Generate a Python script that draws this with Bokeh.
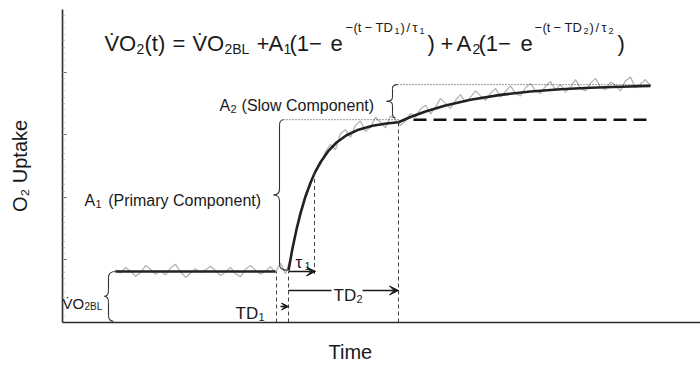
from bokeh.plotting import figure
from bokeh.models import Range1d, Label, Arrow, VeeHead, FixedTicker, Title
from bokeh.embed import file_html
from bokeh.resources import INLINE

# ---------------- data (time in s, O2 uptake in arbitrary units) ----------------
start_t = 53       # start of recording
onset_t = 214      # exercise onset
td1_t = 226        # end of TD1, start of primary component
tau1_t = 252       # TD1 + tau1
td2_t = 336        # start of slow component
end_t = 588        # end of recording
base_y = 0.815     # VO2 baseline
plateau_y = 3.24   # baseline + A1
final_y = 3.80     # baseline + A1 + A2

model_t = [226, 230, 234, 238, 243, 248, 252, 258, 266, 274, 284, 296, 310, 324, 336,
           348, 363, 383, 408, 438, 468, 498, 528, 558, 588]
model_y = [0.83, 1.185, 1.487, 1.744, 2.013, 2.233, 2.380, 2.561, 2.743, 2.875, 2.992,
           3.081, 3.144, 3.179, 3.198, 3.283, 3.372, 3.468, 3.558, 3.636, 3.689, 3.725,
           3.749, 3.767, 3.780]

grey_t = [53, 58, 63, 68, 73, 78, 83, 88, 93, 98, 103, 108, 113, 118, 123, 128, 133, 138,
          143, 148, 153, 158, 163, 168, 173, 178, 183, 188, 193, 198, 203, 208, 213, 218,
          223, 228, 233, 238, 243, 248, 253, 258, 263, 268, 273, 278, 283, 288, 293, 298,
          303, 308, 313, 318, 323, 328, 333, 338, 343, 348, 353, 358, 363, 368, 373, 378,
          383, 388, 393, 398, 403, 408, 413, 418, 423, 428, 433, 438, 443, 448, 453, 458,
          463, 468, 473, 478, 483, 488, 493, 498, 503, 508, 513, 518, 523, 528, 533, 538,
          543, 548, 553, 558, 563, 568, 573, 578, 583, 588]
grey_y = [0.84, 0.79, 0.88, 0.82, 0.74, 0.80, 0.91, 0.85, 0.77, 0.83, 0.76, 0.87, 0.93,
          0.81, 0.72, 0.79, 0.86, 0.80, 0.84, 0.90, 0.83, 0.75, 0.81, 0.88, 0.78, 0.73,
          0.85, 0.91, 0.84, 0.77, 0.82, 0.89, 0.80,
          0.95, 0.78, 1.02, 1.40, 1.78, 2.05, 2.20, 2.45, 2.52, 2.73,
          2.84, 2.76, 3.02, 3.08, 2.96, 3.15, 3.22, 3.05, 3.12, 3.28,
          3.20, 3.11, 3.30, 3.24, 3.15, 3.22, 3.34, 3.28, 3.41, 3.47,
          3.33, 3.44, 3.58, 3.50, 3.42, 3.55, 3.64, 3.52, 3.60, 3.70,
          3.62, 3.55, 3.66, 3.74, 3.60, 3.69, 3.78, 3.66, 3.62, 3.75,
          3.82, 3.70, 3.66, 3.77, 3.85, 3.72, 3.80, 3.68, 3.76, 3.88,
          3.74, 3.70, 3.82, 3.90, 3.76, 3.72, 3.84, 3.79, 3.70, 3.86,
          3.92, 3.75, 3.81, 3.88, 3.78]

# ---------------- figure ----------------
FONT = "Liberation Sans"
INK = "#1a1a1a"
PXY = 62.6  # pixels per y unit
FL, FB = 62, 322  # frame left / bottom in page pixels

p = figure(frame_width=638, frame_height=313, x_range=Range1d(0, 638), y_range=Range1d(0, 5),
           output_backend="svg", toolbar_location=None,
           min_border_left=FL, min_border_right=0, min_border_top=9, min_border_bottom=51)
p.outline_line_color = None
p.grid.visible = False
p.background_fill_color = "white"
p.border_fill_color = "white"

p.yaxis.ticker = FixedTicker(ticks=[1, 2, 3, 4], minor_ticks=[i / 10 for i in range(1, 50)])
p.yaxis.major_label_overrides = {1: "", 2: "", 3: "", 4: ""}
p.yaxis.major_tick_in = 4
p.yaxis.major_tick_out = 0
p.yaxis.minor_tick_in = 2
p.yaxis.minor_tick_out = 0
p.yaxis.major_tick_line_color = "#555555"
p.yaxis.minor_tick_line_color = "#9a9a9a"
p.yaxis.axis_label = "O\u2082 Uptake"
p.yaxis.axis_label_text_font = FONT
p.yaxis.axis_label_text_font_size = "20px"
p.yaxis.axis_label_text_font_style = "normal"
p.yaxis.axis_label_text_color = INK
p.yaxis.axis_label_standoff = 32

p.xaxis.ticker = FixedTicker(ticks=[])
p.xaxis.major_tick_line_color = None
p.xaxis.minor_tick_line_color = None
for ax in (p.xaxis, p.yaxis):
    ax.axis_line_color = "#2a2a2a"
    ax.axis_line_width = 1.6

p.add_layout(Title(text="Time", align="left", offset=266, text_font=FONT,
                   text_font_size="20px", text_font_style="normal", text_color=INK,
                   standoff=33), "below")


def t_of(px):
    return px - FL


def y_of(py):
    return (FB - py) / PXY


def txt(s, px, py, size, align="left", color=INK):
    p.add_layout(Label(x=t_of(px), y=y_of(py), text=s, text_font=FONT,
                       text_font_size=f"{size}px", text_color=color,
                       text_align=align, text_baseline="alphabetic"))


# ---------------- data lines ----------------
p.line(grey_t, grey_y, line_color="#b4b4b4", line_width=1.3)
p.line([start_t, onset_t - 1], [base_y, base_y], line_color="#222222", line_width=2.6)
p.line(model_t, model_y, line_color="#222222", line_width=2.6, line_join="round")
p.line([td2_t + 15, end_t], [plateau_y, plateau_y], line_color="#111111", line_width=2.6,
       line_dash="13 7")

# dotted amplitude guides
p.line([onset_t + 7, td2_t], [plateau_y, plateau_y], line_color="#333333", line_width=1,
       line_dash="1 2")
p.line([td2_t - 1, end_t], [final_y, final_y], line_color="#333333", line_width=1,
       line_dash="1 2")

# dashed vertical markers
p.segment(x0=[onset_t, td1_t, tau1_t, td2_t],
          y0=[0, 0, base_y - 0.04, 0],
          x1=[onset_t, td1_t, tau1_t, td2_t],
          y1=[base_y, base_y, model_y[model_t.index(tau1_t)], model_y[model_t.index(td2_t)]],
          line_color="#444444", line_width=1, line_dash="4 3")


# ---------------- braces ----------------
def brace(xv, y_lo, y_hi, tip, curl_lo, curl_hi, r=6):
    ry = r / PXY
    ym = (y_lo + y_hi) / 2
    kw = dict(line_color="#333333", line_width=1.1)
    p.quadratic(x0=[xv + curl_hi], y0=[y_hi], x1=[xv], y1=[y_hi - ry], cx=[xv], cy=[y_hi], **kw)
    p.segment(x0=[xv], y0=[y_hi - ry], x1=[xv], y1=[ym + ry], **kw)
    p.quadratic(x0=[xv], y0=[ym + ry], x1=[xv - tip], y1=[ym], cx=[xv], cy=[ym], **kw)
    p.quadratic(x0=[xv - tip], y0=[ym], x1=[xv], y1=[ym - ry], cx=[xv], cy=[ym], **kw)
    p.segment(x0=[xv], y0=[ym - ry], x1=[xv], y1=[y_lo + ry], **kw)
    p.quadratic(x0=[xv], y0=[y_lo + ry], x1=[xv + curl_lo], y1=[y_lo], cx=[xv], cy=[y_lo], **kw)


brace(start_t - 7, 0.02, base_y, tip=4, curl_lo=5, curl_hi=7)
brace(onset_t + 3, base_y + 0.02, plateau_y, tip=6, curl_lo=8, curl_hi=4)
brace(td2_t - 6, plateau_y + 0.03, final_y, tip=6, curl_lo=3, curl_hi=5, r=4)

# ---------------- arrows ----------------
akw = dict(line_color="#1a1a1a", line_width=1.3)
p.add_layout(Arrow(end=VeeHead(size=7, fill_color="#1a1a1a", line_color="#1a1a1a"),
                   x_start=t_of(280), y_start=y_of(306), x_end=td1_t, y_end=y_of(306), **akw))
p.add_layout(Arrow(end=VeeHead(size=9, fill_color="#1a1a1a", line_color="#1a1a1a"),
                   x_start=td1_t, y_start=base_y, x_end=tau1_t + 1, y_end=base_y, **akw))
p.segment(x0=[td1_t], y0=[y_of(290)], x1=[t_of(331)], y1=[y_of(290)], **akw)
p.add_layout(Arrow(end=VeeHead(size=9, fill_color="#1a1a1a", line_color="#1a1a1a"),
                   x_start=t_of(362), y_start=y_of(290), x_end=td2_t, y_end=y_of(290), **akw))

# ---------------- annotation texts ----------------
txt("V\u0307O", 62, 303, 15)
txt("2BL", 84, 306, 10)
txt("TD", 235, 313, 17)
txt("1", 258, 316, 11)
txt("TD", 333, 295, 17)
txt("2", 356, 298, 11)
txt("\u03c4", 295, 262, 17)
txt("1", 304, 265, 11)
txt("A", 84, 200, 16)
txt("1", 95, 203, 11)
txt(" (Primary Component)", 265, 200, 16, align="right")
txt("A", 219, 105, 16)
txt("2", 230, 108, 11)
txt(" (Slow Component)", 378, 105, 16, align="right")

# ---------------- equation ----------------
styles = {"main": (22, 43), "sub": (14, 48), "sup": (13, 27), "supsub": (9, 30)}
pieces = [
    ("V\u0307", 104, "main"), ("O", 118.5, "main"), ("2", 136, "sub"), ("(t)", 144, "main"),
    ("=", 172, "main"), ("V\u0307", 192, "main"), ("O", 206.5, "main"), ("2BL", 224, "sub"),
    ("+", 256, "main"), ("A", 268, "main"), ("1", 283, "sub"), ("(1\u2212", 289, "main"),
    ("e", 330, "main"),
    ("\u2212", 345, "sup"), ("(t", 353, "sup"), ("\u2212", 364, "sup"), ("TD", 375, "sup"),
    ("1", 394, "supsub"), (")", 400, "sup"), ("/", 406, "sup"), ("\u03c4", 412, "sup"),
    ("1", 419, "supsub"),
    (")", 427, "main"), ("+", 440, "main"), ("A", 456, "main"), ("2", 472, "sub"),
    ("(1\u2212", 478, "main"), ("e", 520, "main"),
    ("\u2212", 534, "sup"), ("(t", 542, "sup"), ("\u2212", 553, "sup"), ("TD", 564, "sup"),
    ("2", 583, "supsub"), (")", 589, "sup"), ("/", 595, "sup"), ("\u03c4", 601, "sup"),
    ("2", 608, "supsub"), (")", 617, "main"),
]
for s, px, kind in pieces:
    size, py = styles[kind]
    txt(s, px, py, size)

open("out.html", "w").write(file_html(p, INLINE))
